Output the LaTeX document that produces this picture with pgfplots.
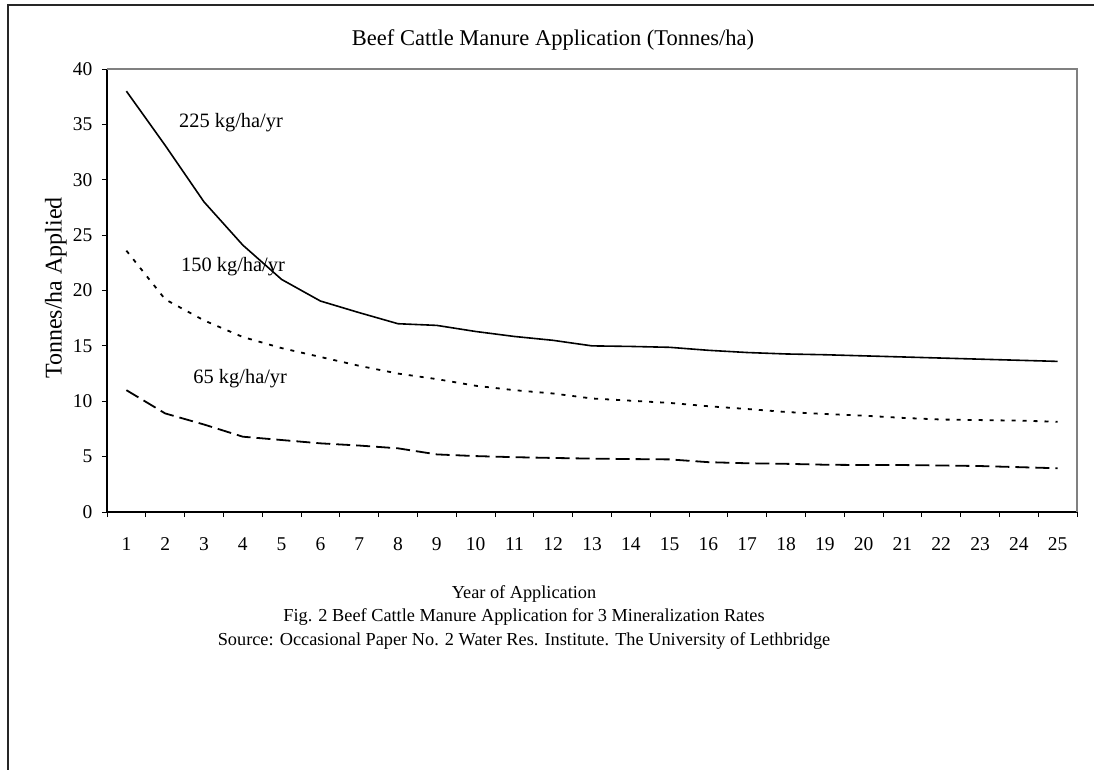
\documentclass[border=0pt]{standalone}
\usepackage{fontspec}
\setmainfont{Liberation Serif}
\usepackage{pgfplots}
\pgfplotsset{compat=1.18}
\begin{document}
\begin{tikzpicture}
\useasboundingbox (0,0) rectangle (1094pt,-770pt);
\draw[line width=1.5pt, black!85] (8pt,-780pt) -- (8pt,-5pt) -- (1100pt,-5pt);
\begin{axis}[
  at={(107pt,-512pt)}, anchor=south west,
  width=970pt, height=443pt, scale only axis,
  xmin=0.5, xmax=25.5, ymin=0, ymax=40,
  axis x line*=bottom, axis y line*=left,
  axis line style={line width=1.1pt, black},
  xtick={1,...,25},
  major x tick style={draw=none},
  minor xtick={0.5,1.5,...,25.5},
  ytick={0,5,...,40},
  tick align=outside,
  major tick length=5pt, minor tick length=5pt,
  every tick/.style={black, line width=0.9pt},
  /pgf/number format/assume math mode=true,
  tick label style={font=\fontsize{19.5}{23}\selectfont},
  xticklabel style={anchor=base, inner sep=0pt, yshift=-33pt},
  yticklabel style={anchor=east, inner sep=0pt, xshift=-9.3pt},
  title={Beef Cattle Manure Application (Tonnes/ha)},
  title style={font=\fontsize{22.5}{27}\selectfont, at={(axis description cs:0.4598,1.0406)}, anchor=base, inner sep=0pt},
  xlabel={Year of Application},
  xlabel style={font=\fontsize{18.3}{22}\selectfont, at={(axis description cs:0.4299,-0.1957)}, anchor=base, inner sep=0pt},
  ylabel={Tonnes/ha Applied},
  ylabel style={font=\fontsize{24}{28}\selectfont, at={(axis description cs:-0.0469,0.5056)}, anchor=base, inner sep=0pt},
  clip=false,
]
\draw[color=gray, line width=1.2pt] (rel axis cs:0,1) -- (rel axis cs:1,1) -- (rel axis cs:1,0);
% 225 kg/ha/yr
\addplot[black, line width=1.6pt, mark=none] coordinates {
(1,38.0) (2,33.1) (3,28.0) (4,24.1) (5,21.0) (6,19.05) (7,18.0) (8,17.0) (9,16.85) (10,16.3)
(11,15.85) (12,15.5) (13,15.0) (14,14.95) (15,14.87) (16,14.6) (17,14.4) (18,14.27) (19,14.2) (20,14.1)
(21,14.0) (22,13.9) (23,13.8) (24,13.7) (25,13.6)};
% 150 kg/ha/yr
\addplot[black, line width=1.8pt, dash pattern=on 4pt off 7pt, mark=none] coordinates {
(1,23.6) (2,19.2) (3,17.3) (4,15.8) (5,14.8) (6,14.0) (7,13.2) (8,12.5) (9,12.0) (10,11.4)
(11,11.0) (12,10.7) (13,10.25) (14,10.05) (15,9.85) (16,9.55) (17,9.3) (18,9.03) (19,8.85) (20,8.7)
(21,8.5) (22,8.35) (23,8.3) (24,8.25) (25,8.15)};
% 65 kg/ha/yr
\addplot[black, line width=1.8pt, dash pattern=on 14pt off 6pt, mark=none] coordinates {
(1,11.0) (2,8.9) (3,7.9) (4,6.8) (5,6.5) (6,6.2) (7,6.0) (8,5.75) (9,5.2) (10,5.05)
(11,4.95) (12,4.88) (13,4.82) (14,4.78) (15,4.75) (16,4.5) (17,4.4) (18,4.35) (19,4.27) (20,4.24)
(21,4.24) (22,4.2) (23,4.15) (24,4.05) (25,3.95)};
\node[anchor=base west, inner sep=0pt, font=\fontsize{20.4}{24}\selectfont] at (axis cs:2.356,34.76) {225 kg/ha/yr};
\node[anchor=base west, inner sep=0pt, font=\fontsize{20.4}{24}\selectfont] at (axis cs:2.407,21.70) {150 kg/ha/yr};
\node[anchor=base west, inner sep=0pt, font=\fontsize{20.4}{24}\selectfont] at (axis cs:2.724,11.56) {65 kg/ha/yr};
\end{axis}
\node[anchor=base, inner sep=0pt, font=\fontsize{18.3}{22}\selectfont] at (524pt,-621.7pt) {Fig. 2 Beef Cattle Manure Application for 3 Mineralization Rates};
\node[anchor=base, inner sep=0pt, font=\fontsize{18.3}{22}\selectfont] at (524pt,-645pt) {Source: Occasional Paper No. 2 Water Res. Institute. The University of Lethbridge};
\end{tikzpicture}
\end{document}
